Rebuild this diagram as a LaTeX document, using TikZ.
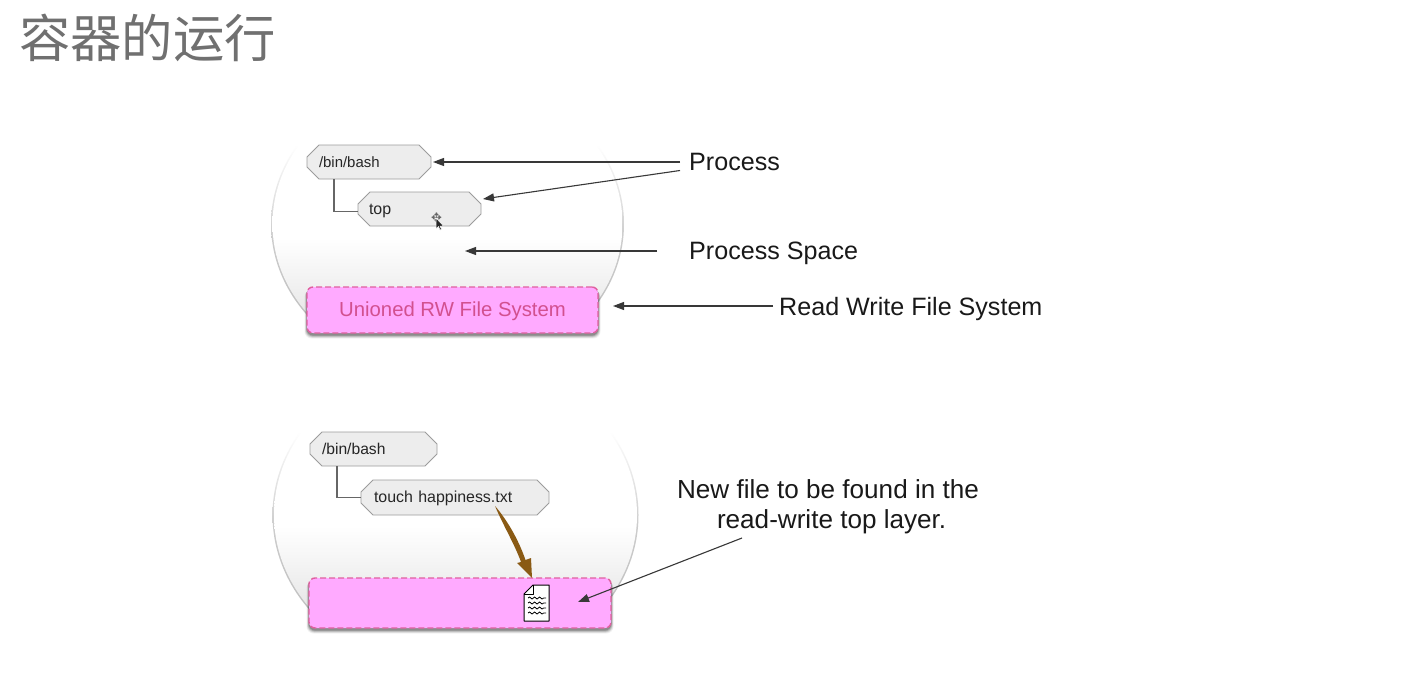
\documentclass[tikz,border=0pt]{standalone}
\usepackage{fontspec}
\setmainfont{Liberation Sans}
\newfontfamily\cjk{Noto Sans CJK SC}
\newfontfamily\dejavu{DejaVu Sans}
\usetikzlibrary{shapes.misc,arrows.meta,decorations.pathmorphing}
\definecolor{boxfill}{HTML}{EDEDED}
\definecolor{boxline}{HTML}{9C9C9C}
\definecolor{pinkfill}{HTML}{FFAAFF}
\definecolor{pinkline}{HTML}{E0609F}
\definecolor{pinktext}{HTML}{D2508F}
\definecolor{arrowdark}{HTML}{383838}
\definecolor{brownarrow}{HTML}{8A5A14}
\definecolor{titlegray}{HTML}{707070}
\tikzset{
  procbox/.style={chamfered rectangle,chamfered rectangle xsep=6bp,chamfered rectangle ysep=6bp,
    draw=boxline,fill=boxfill,line width=0.9bp,text=black!85,inner sep=0pt,outer sep=0pt,
    minimum height=#1,text height=12bp,text depth=2bp,align=left},
  pinkbox/.style={rounded corners=6bp,draw=pinkline,fill=pinkfill,dash pattern=on 6bp off 3bp,line width=1.4bp},
  callout/.style={font=\fontsize{25.2}{30}\selectfont,text=black!90,inner sep=0pt,anchor=base west},
  pointer/.style={draw=arrowdark,line width=1.1bp,-{Triangle[length=11bp,width=8bp]}},
  link/.style={draw=black!60,line width=1.4bp},
  bubbleedge/.style={shade,top color=white,bottom color=black!25,middle color=black!20},
  bubblefill/.style={shade,top color=white,bottom color=black!11,middle color=white},
}
\newcommand{\softshadow}[4]{% x1 y1 x2 y2
  \foreach \s/\o in {5/0.05,4/0.07,3/0.10,2/0.14,1/0.18}{
    \fill[black,opacity=\o,rounded corners=7bp] (#1-\s*0.5,#2+\s*0.6) rectangle (#3+\s*0.5,#4+2+\s*0.7);
  }}
\begin{document}
\begin{tikzpicture}[x=1bp,y=-1bp]
\useasboundingbox (0,0) rectangle (1418,694);
\fill[white] (0,0) rectangle (1418,694);
% title
\node[anchor=base west,inner sep=0pt,text=titlegray,font=\cjk\fontsize{51.5}{56}\selectfont] (title) at (19,58) {容器的运行};

% ---- upper bubble
\begin{scope}
  \clip (447.5,224) ellipse [x radius=176.5,y radius=150.5];
  \shade[bubbleedge] (260,145) rectangle (640,330);
  \clip (447.5,224) ellipse [x radius=175,y radius=149];
  \shade[bubblefill] (260,145) rectangle (640,330);
\end{scope}
\softshadow{307}{287}{598}{333}
\node[pinkbox,minimum width=291bp,minimum height=46bp,inner sep=0pt,text=pinktext,font=\fontsize{20.4}{25}\selectfont] (rw1) at (452.5,310) {\raisebox{-6.5bp}[0pt][0pt]{Unioned RW File System}};
\node[procbox=34bp,text width=112bp,font=\fontsize{15}{18}\selectfont] (bash1) at (369,162) {\hspace*{6bp}/bin/bash};
\node[procbox=34bp,text width=111bp,font=\fontsize{16}{18}\selectfont] (top1) at (419.5,209) {\hspace*{5bp}top};
\coordinate (drop1) at (334,179);
\coordinate (space1) at (465,251);
\draw[link] (drop1) |- ([yshift=-2.5bp]top1.west);

% cursor
\node[inner sep=0pt,text=black!60,font=\dejavu\fontsize{13}{13}\selectfont] (movecur) at (436.5,218) {✥};
\filldraw[fill=black!85,draw=white,line width=0.5bp] (436,218) -- (436,229) -- (438.5,226.5) -- (440,230) -- (441.5,229.3) -- (440,226) -- (443.5,226) -- cycle;

% upper labels
\node[callout] (process) at (689,170) {Process};
\node[callout] (pspace) at (689,259) {Process Space};
\node[callout] (rwfs) at (779,315) {Read Write File System};
\coordinate (p1s) at (680,162);
\coordinate (p2s) at (680,170.5);
\draw[pointer] (p1s) -- ([xshift=2bp]bash1.east);
\draw[pointer] (p2s) -- ([xshift=2bp,yshift=10bp]top1.east);
\coordinate (ps) at (657,251);
\draw[pointer] (ps) -- (space1);
\coordinate (rwf) at (773,306);
\coordinate (rwt) at (613,306);
\draw[pointer] (rwf) -- (rwt);

% ---- lower bubble
\begin{scope}
  \clip (455.5,515) ellipse [x radius=183,y radius=157.5];
  \shade[bubbleedge] (260,432) rectangle (650,620);
  \clip (455.5,515) ellipse [x radius=181.5,y radius=156];
  \shade[bubblefill] (260,432) rectangle (650,620);
\end{scope}
\softshadow{309}{578}{611}{628}
\node[pinkbox,minimum width=302bp,minimum height=50bp,inner sep=0pt] (rw2) at (460,603) {};
\node[procbox=34bp,text width=115bp,font=\fontsize{15.7}{18}\selectfont] (bash2) at (373.5,449) {\hspace*{6bp}/bin/bash};
\node[procbox=35bp,text width=176bp,font=\fontsize{16}{18}\selectfont] (touch) at (455,497.5) {\hspace*{7bp}touch happiness.txt};
\coordinate (drop2) at (337,466);
\draw[link] (drop2) |- (touch.west);

% file icon
\filldraw[draw=black,fill=white,line width=1bp,line join=round]
  (533,585) -- (549,585) -- (549,621) -- (524,621) -- (524,594) -- cycle;
\draw[black,line width=0.7bp,line join=round] (533,585) -- (533,594) -- (524,594);
\foreach \yy in {598,603,608,613}{
  \draw[black,line width=0.8bp,decorate,decoration={snake,amplitude=1bp,segment length=5bp}] (528,\yy) -- (546,\yy);
}
% brown arrow (tapered)
\coordinate (bs) at ([xshift=-48bp,yshift=3bp]touch.south east);
\coordinate (bt) at (532,578);
\fill[brownarrow] (bs) .. controls (508,521) and (519,541) .. (525.5,560)
  -- (531,558) -- (bt) -- (517,563) -- (521,562)
  .. controls (515,545) and (503,525) .. (bs) -- cycle;

% lower label
\node[align=center,font=\fontsize{26.2}{30}\selectfont,text=black!90,inner sep=0pt] (newfile) at (828,507) {New file to be found in the\\ \ read-write top layer.};
\coordinate (nf) at (742,538);
\coordinate (nft) at (578,602);
\draw[pointer] (nf) -- (nft);
\end{tikzpicture}
\end{document}
